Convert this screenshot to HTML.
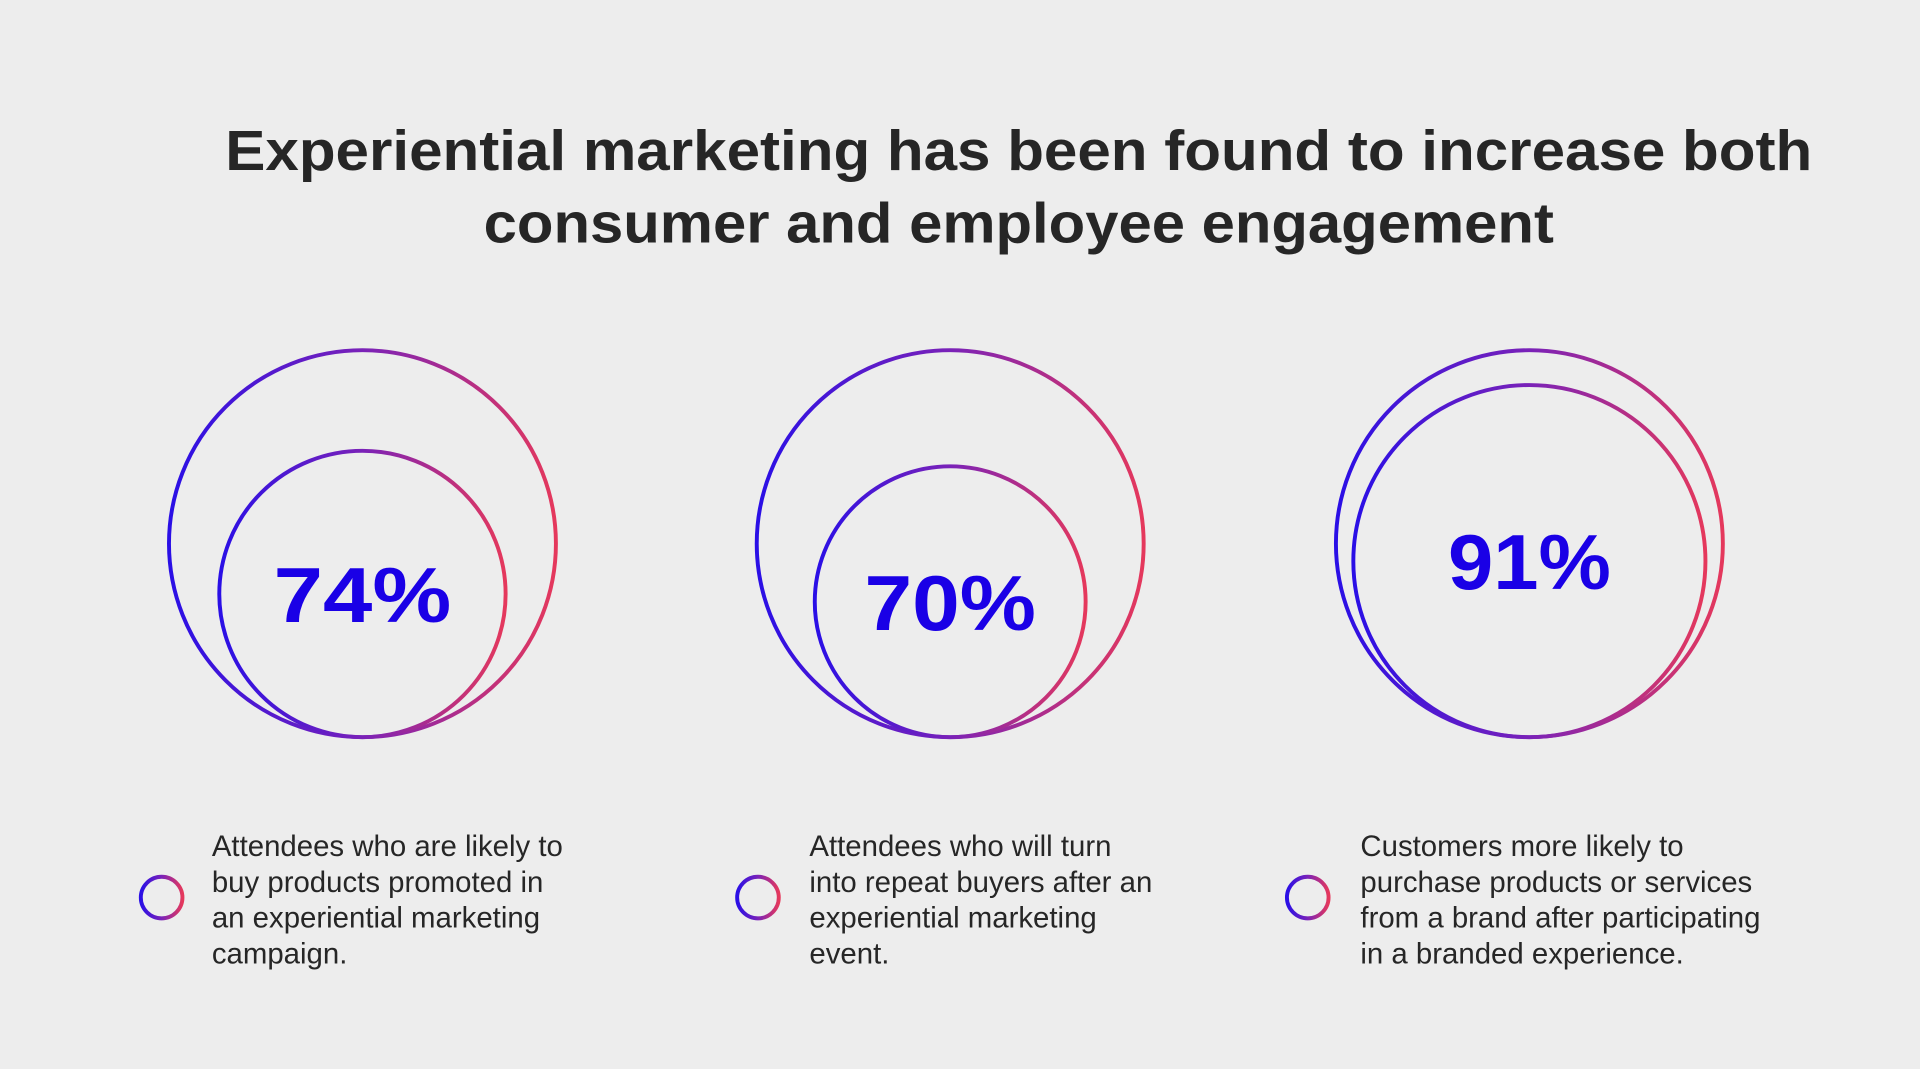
<!DOCTYPE html>
<html><head><meta charset="utf-8"><style>
html,body{margin:0;padding:0;background:#ededed;}
svg{display:block;}
</style></head><body>
<svg id="chart" width="1920" height="1069" viewBox="0 0 1568 873" xmlns="http://www.w3.org/2000/svg">
<defs>
<linearGradient id="g" x1="0" y1="0" x2="1" y2="0">
<stop offset="0" stop-color="#2a0fe6"/><stop offset="0.5" stop-color="#7a22b8"/><stop offset="1" stop-color="#e5385c"/>
</linearGradient>
</defs>
<rect width="1568" height="873" fill="#ededed"/>
<text x="832" y="139" text-anchor="middle" font-family="Liberation Sans, sans-serif" font-weight="bold" font-size="46" fill="#262626" textLength="1296" lengthAdjust="spacingAndGlyphs">Experiential marketing has been found to increase both</text>
<text x="832" y="198" text-anchor="middle" font-family="Liberation Sans, sans-serif" font-weight="bold" font-size="46" fill="#262626" textLength="874" lengthAdjust="spacingAndGlyphs">consumer and employee engagement</text>
<g id="marks"></g>
</svg>
<script>
const percents = [74, 70, 91];
const valueLabels = ["74%", "70%", "91%"];
const descriptions = [
 ["Attendees who are likely to","buy products promoted in","an experiential marketing","campaign."],
 ["Attendees who will turn","into repeat buyers after an","experiential marketing","event."],
 ["Customers more likely to","purchase products or services","from a brand after participating","in a branded experience."]
];
const NS="http://www.w3.org/2000/svg";
const g=document.getElementById('marks');
const centersX=[296,776,1249], R=158, cy=444, bottom=cy+R;
const textX=[173,661,1111], dotX=[132,619,1068];
const labelW=[145,140,133];
function el(t,a){const e=document.createElementNS(NS,t);for(const k in a)e.setAttribute(k,a[k]);g.appendChild(e);return e;}
percents.forEach((p,i)=>{
 const outer=el('circle',{cx:centersX[i],cy:cy,r:R,fill:'none',stroke:'url(#g)','stroke-width':3.2});
 
 
 const r=R*p/100;
 const inner=el('circle',{cx:centersX[i],cy:bottom-r,r:r,fill:'none',stroke:'url(#g)','stroke-width':3.2});
 
 
 const t=el('text',{x:centersX[i],y:bottom-r+23,'text-anchor':'middle','font-family':'Liberation Sans, sans-serif','font-weight':'bold','font-size':64,fill:'#1a00e6',textLength:labelW[i],lengthAdjust:'spacingAndGlyphs'});
 t.textContent=valueLabels[i];
 
 
 const d=el('circle',{cx:dotX[i],cy:733,r:17,fill:'none',stroke:'url(#g)','stroke-width':3.2});
 
 
 descriptions[i].forEach((line,j)=>{
  const tt=el('text',{x:textX[i],y:699+j*29.3,'font-family':'Liberation Sans, sans-serif','font-size':24,fill:'#262626'});
  tt.textContent=line;
  
  
 });
});
</script>
</body></html>
